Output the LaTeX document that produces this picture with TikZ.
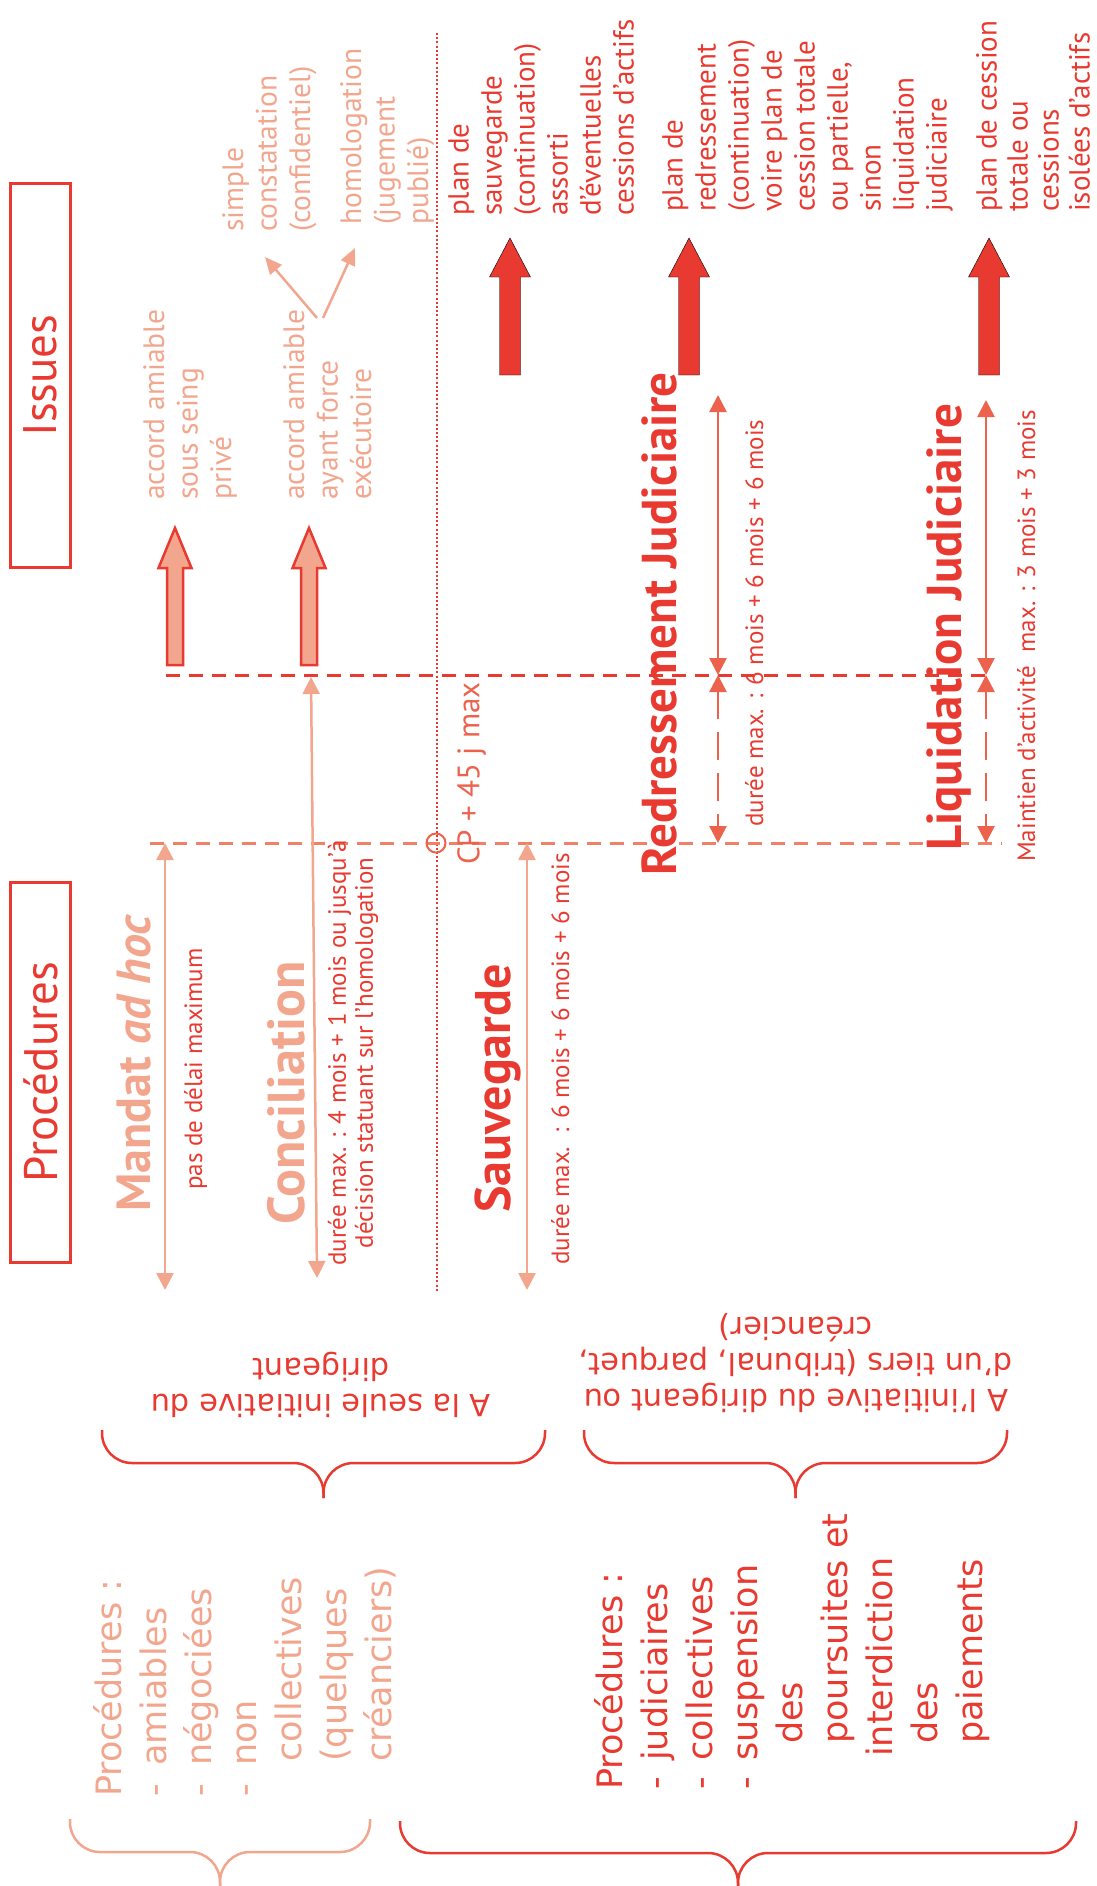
\documentclass[tikz,border=0pt]{standalone}
\usepackage{fontspec}
\setmainfont{PT Sans}
\newfontfamily\vfont{DejaVu Sans}
\usetikzlibrary{arrows.meta}
\definecolor{redC}{RGB}{232,58,48}
\definecolor{salC}{RGB}{243,166,142}
\definecolor{corC}{RGB}{236,98,76}
\definecolor{dashC}{RGB}{240,128,104}
\newcommand{\fsz}[2]{\fontsize{#1}{#2}\selectfont}
% upward block arrow: x, tip, head base, bottom, half shaft, half head
\newcommand{\blockarr}[7][]{%
  \draw[#1] (#2-#6,#5) -- (#2-#6,#4) -- (#2-#7,#4) -- (#2,#3) -- (#2+#7,#4) -- (#2+#6,#4) -- (#2+#6,#5) -- cycle;}
% curly brace opening up: x1, x2, top, middle, tip
\newcommand{\curly}[6][]{%
  \draw[#1] (#2,#4) |- ({(#2+#3)/2},#5) -- ({(#2+#3)/2},#6);
  \draw[#1] (#3,#4) |- ({(#2+#3)/2},#5) -- ({(#2+#3)/2},#6);}

\begin{document}
\begin{tikzpicture}[x=1pt, y=-1pt,
    lbl/.style={inner sep=0pt, rotate=90, anchor=north west, align=left},
    salTxt/.style={lbl, text=salC, font=\fsz{29.5}{33.5}},
    planTxt/.style={lbl, text=redC, font=\fsz{29}{33}},
    noteTxt/.style={lbl, text=redC, font=\fsz{25}{27}},
    titleTxt/.style={lbl, font=\bfseries\fsz{49}{52}},
    headBox/.style={draw=redC, line width=3pt, rotate=90, text=redC, font=\fsz{47}{50}, minimum height=60pt, inner sep=0pt},
    listTxt/.style={lbl, font=\vfont\fsz{35}{45}},
    initTxt/.style={rotate=180, align=center, inner sep=0pt, text=redC, font=\vfont\fsz{30.5}{36}},
    dashline/.style={line width=3pt, dash pattern=on 14pt off 9pt},
    dotline/.style={redC, line width=2pt, dash pattern=on 2pt off 2.2pt},
    salArr/.style={salC, line width=2.5pt, {Triangle[width=17pt,length=17pt]}-{Triangle[width=17pt,length=17pt]}},
    corArr/.style={corC, line width=2.5pt, {Triangle[width=17pt,length=17pt]}-{Triangle[width=17pt,length=17pt]}},
    forkArr/.style={salC, line width=2.5pt, -{Triangle[width=15pt,length=17pt]}},
    curlyLine/.style={line width=2.5pt, rounded corners=30pt}
]
\useasboundingbox (0,0) rectangle (1096,1886);

% Headers
\node[headBox, minimum width=383pt] (issues) at (40,375.5) {Issues};
\node[headBox, minimum width=380pt] (proc) at (40.5,1072) {Procédures};

% Time lines
\coordinate (dotT) at (437,33);
\coordinate (dotB) at (437,1292);
\draw[dotline] (dotT) -- (dotB);
\coordinate (upL) at (166,675);
\coordinate (upR) at (986,675);
\coordinate (loL) at (150,843);
\coordinate (loR) at (1002,843);
\draw[dashline, redC] (upL) -- (upR);
\draw[dashline, dashC] (loL) -- (loR);
\node[circle, draw=corC, line width=2pt, minimum size=19pt, inner sep=0pt] (cp) at (436,843) {};

% Block arrows to the outcomes
\blockarr[fill=salC, draw=redC, line width=2.5pt]{175}{528}{568}{665}{8}{16.5}
\blockarr[fill=salC, draw=redC, line width=2.5pt]{309}{528}{568}{665}{8}{16.5}
\blockarr[fill=redC]{510}{238}{277}{375}{10.5}{20.5}
\blockarr[fill=redC]{689}{238}{277}{375}{10.5}{20.5}
\blockarr[fill=redC]{989}{238}{277}{375}{10.5}{20.5}

% Outcomes
\node[salTxt] (accA) at (143,500) {accord amiable\\sous seing\\privé};
\node[salTxt] (accB) at (283,500) {accord amiable\\ayant force\\exécutoire};
\node[salTxt] (simp) at (222,232) {simple\\constatation\\(confidentiel)};
\node[salTxt] (homo) at (340,225) {homologation\\(jugement\\publié)};
\node[planTxt] (planS) at (448,216) {plan de\\sauvegarde\\(continuation)\\assorti\\d’éventuelles\\cessions d’actifs};
\node[planTxt] (planR) at (662,212) {plan de\\redressement\\(continuation)\\voire plan de\\cession totale\\ou partielle,\\sinon\\liquidation\\judiciaire};
\node[planTxt, font=\fsz{29}{31}] (planL) at (976,212) {plan de cession\\totale ou\\cessions\\isolées d’actifs};

\coordinate (fork) at (320,318);
\coordinate (simpEnd) at (265,257);
\coordinate (homoEnd) at (355,248);
\draw[forkArr] ([xshift=-3pt]fork) -- (simpEnd);
\draw[forkArr] ([xshift=3pt]fork) -- (homoEnd);

% Durations
\coordinate (mandT) at (165,843);
\coordinate (mandB) at (165,1290);
\coordinate (concT) at (311,677);
\coordinate (concB) at (317,1278);
\coordinate (sauvT) at (527,843);
\coordinate (sauvB) at (527,1290);
\draw[salArr] (mandT) -- (mandB);
\draw[salArr] (concT) -- (concB);
\draw[salArr] (sauvT) -- (sauvB);

\coordinate (redT) at (718,395);
\coordinate (redM) at (718,675);
\coordinate (redB) at (718,843);
\coordinate (liqT) at (986,400);
\coordinate (liqM) at (986,675);
\coordinate (liqB) at (986,843);
\draw[corArr] (redT) -- (redM);
\draw[corArr, dash pattern=on 28pt off 13pt] (redM) -- (redB);
\draw[corArr] (liqT) -- (liqM);
\draw[corArr, dash pattern=on 28pt off 13pt] (liqM) -- (liqB);

% Procedures
\node[titleTxt, text=salC, font=\bfseries\fsz{48}{52}] (mandat) at (117,1212) {Mandat \textit{ad hoc}};
\node[titleTxt, text=salC, font=\bfseries\fsz{52}{54}] (concil) at (267,1225) {Conciliation};
\node[titleTxt, text=redC, font=\bfseries\fsz{50}{52}] (sauveg) at (475,1213) {Sauvegarde};
\node[titleTxt, text=redC] (redress) at (641,876) {Redressement Judiciaire};
\node[titleTxt, text=redC] (liquid) at (926,851) {Liquidation Judiciaire};

\node[noteTxt] (mandNote) at (184,1190) {pas de délai maximum};
\node[noteTxt, anchor=center, align=center] (concNote) at (353,1053) {durée max. : 4 mois + 1 mois ou jusqu’à\\décision statuant sur l’homologation};
\node[noteTxt] (sauvNote) at (551,1265) {durée max.~~: 6 mois + 6 mois + 6 mois};
\node[noteTxt] (redNote) at (745,827) {durée max. : 6 mois + 6 mois + 6 mois};
\node[noteTxt] (liqNote) at (1017,862) {Maintien d’activité~~max. : 3 mois + 3 mois};
\node[lbl, text=corC, font=\fsz{31}{33}] (cpNote) at (457,865) {CP + 45 j max};

% Who starts them
\node[initTxt] (initA) at (321,1385) {A la seule initiative du\\dirigeant};
\node[initTxt] (initB) at (796,1363) {A l’initiative du dirigeant ou\\d’un tiers (tribunal, parquet,\\créancier)};
\curly[curlyLine, redC]{102}{545}{1430}{1463}{1498}
\curly[curlyLine, redC]{584}{1007}{1430}{1463}{1498}

% Kinds of procedures
\node[listTxt, text=salC] (amiable) at (93,1797) {Procédures :\\\makebox[31pt][l]{-}amiables\\\makebox[31pt][l]{-}négociées\\\makebox[31pt][l]{-}non\\\hspace*{35pt}collectives\\\hspace*{35pt}(quelques\\\hspace*{35pt}créanciers)};
\node[listTxt, text=redC] (judic) at (594,1790) {Procédures :\\\makebox[29pt][l]{-}judiciaires\\\makebox[29pt][l]{-}collectives\\\makebox[29pt][l]{-}suspension\\\hspace*{46pt}des\\\hspace*{46pt}poursuites et\\\hspace*{33pt}interdiction\\\hspace*{46pt}des\\\hspace*{46pt}paiements};
\curly[curlyLine, salC]{70}{370}{1819}{1852}{1886}
\curly[curlyLine, redC]{400}{1076}{1821}{1853}{1886}

\end{tikzpicture}
\end{document}
